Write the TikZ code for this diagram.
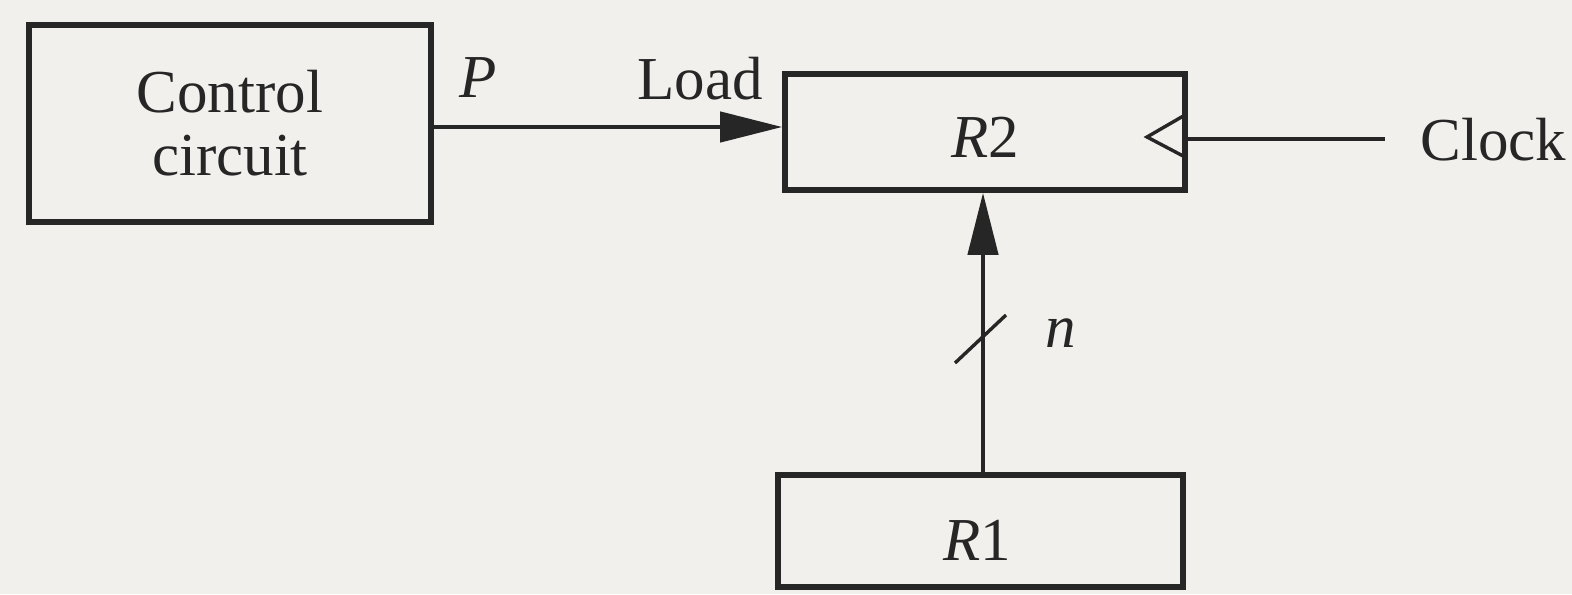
\documentclass[tikz,border=0pt]{standalone}
\usepackage{fontspec}
\setmainfont{Liberation Serif}
\usetikzlibrary{arrows.meta}
\definecolor{ink}{RGB}{38,38,38}
\definecolor{paper}{RGB}{241,240,236}
\begin{document}
\begin{tikzpicture}[x=0.5pt,y=-0.5pt,
  txt/.style={text=ink, font=\fontsize{30.5}{31.5}\selectfont, inner sep=0pt},
  regbox/.style={draw=ink, line width=2.8pt, inner sep=0pt, fill=none},
  wire/.style={draw=ink, line width=2.2pt},
  arr/.style={wire, -{Triangle[length=31pt,width=15pt]}},
  thinwire/.style={draw=ink, line width=1.7pt, line join=miter}]
\fill[paper] (0,0) rectangle (1572,594);
\useasboundingbox (0,0) rectangle (1572,594);
% boxes
\node[regbox, txt, align=center, minimum width=201pt, minimum height=98.5pt] (ctrl) at (230,123.5) {Control\\circuit};
\node[regbox, minimum width=200pt, minimum height=58pt] (r2) at (985,132) {};
\node[regbox, minimum width=202.5pt, minimum height=56pt] (r1) at (980.5,531) {};
% labels
\node[txt, anchor=base] (r2lab) at (985,157) {\textit{R}2};
\node[txt, anchor=base] (r1lab) at (977,560) {\textit{R}1};
\node[txt, anchor=base] (plab) at (478,97) {\textit{P}};
\node[txt, anchor=base] (loadlab) at (700,99) {Load};
\node[txt, anchor=base west] (nlab) at (1045,347) {\textit{n}};
\node[txt, anchor=base west, inner xsep=17.5pt] (clk) at (1385,160) {Clock};
% connectors
\coordinate (py) at (0,127);
\coordinate (vx) at (983,0);
\draw[arr] (ctrl.east |- py) -- (r2.west |- py);
\draw[arr] (r1.north -| vx) -- (r2.south -| vx);
\draw[wire] (r2.east |- clk.west) -- (clk.west);
% clock triangle
\draw[thinwire] (1185,115) -- (1147,137) -- (1185,157);
% bus slash
\draw[thinwire] (955,363) -- (1006,315);
\end{tikzpicture}
\end{document}
